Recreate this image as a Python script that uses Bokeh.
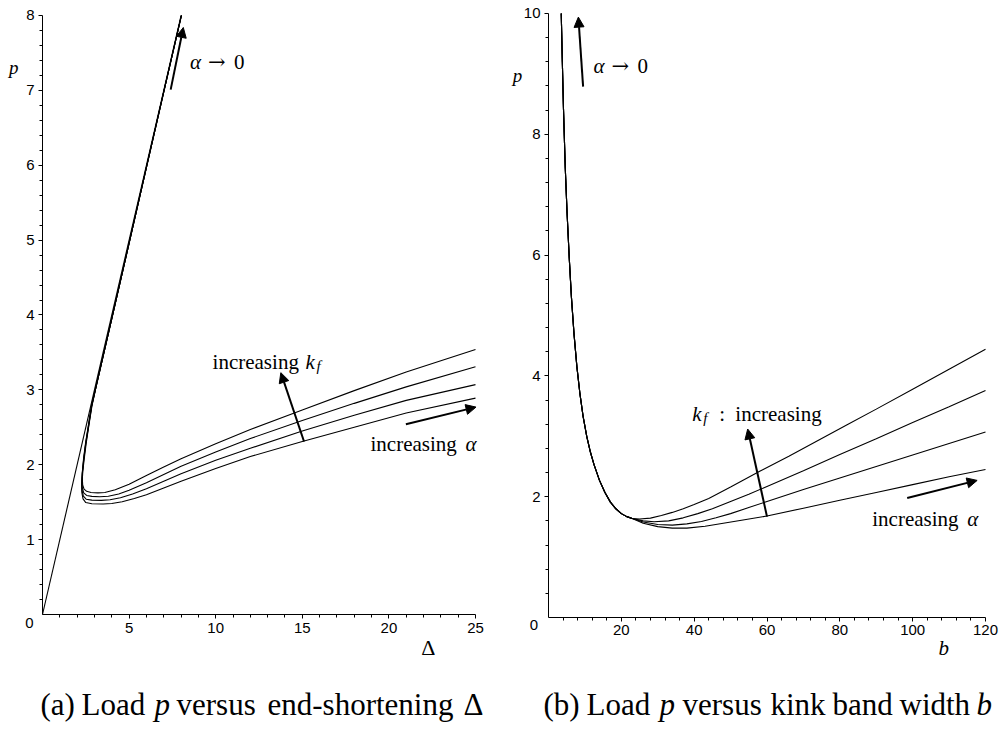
from bokeh.plotting import figure
from bokeh.models import Label, Arrow, NormalHead, FixedTicker, Range1d
from bokeh.layouts import row
from bokeh.embed import file_html
from bokeh.resources import INLINE

# ---------------- panel (a): load p versus end-shortening Delta ----------------
line_delta = [0.0, 8.0]
line_p = [0.0, 8.0]

upper_delta = [8.02, 7.0, 6.0, 5.0, 4.0, 3.5, 3.1]
upper_p = [8.0, 6.98, 5.97, 4.96, 3.95, 3.45, 3.05]

a1_delta = [2.85, 2.66, 2.52, 2.41, 2.33, 2.30, 2.32, 2.40, 2.55, 2.80, 3.2, 3.6, 4.2, 5.0, 6.0, 7.0, 8.0, 10.0, 12.0, 15.0, 18.0, 21.0, 25.0]
a1_p = [2.78, 2.50, 2.28, 2.08, 1.92, 1.81, 1.73, 1.675, 1.645, 1.63, 1.625, 1.63, 1.665, 1.74, 1.855, 1.97, 2.08, 2.28, 2.47, 2.73, 2.99, 3.24, 3.54]

a2_delta = [2.84, 2.65, 2.50, 2.39, 2.31, 2.28, 2.30, 2.38, 2.55, 2.85, 3.3, 3.8, 4.4, 5.0, 6.0, 7.0, 8.0, 10.0, 12.0, 15.0, 18.0, 21.0, 25.0]
a2_p = [2.78, 2.50, 2.28, 2.08, 1.90, 1.78, 1.69, 1.625, 1.59, 1.578, 1.573, 1.58, 1.61, 1.66, 1.76, 1.87, 1.98, 2.17, 2.35, 2.59, 2.82, 3.04, 3.31]

a3_delta = [2.83, 2.64, 2.49, 2.38, 2.30, 2.27, 2.28, 2.36, 2.52, 2.85, 3.4, 3.9, 4.5, 5.2, 6.0, 7.0, 8.0, 10.0, 12.0, 15.0, 18.0, 21.0, 25.0]
a3_p = [2.78, 2.50, 2.28, 2.08, 1.89, 1.76, 1.66, 1.58, 1.54, 1.528, 1.524, 1.533, 1.56, 1.61, 1.68, 1.78, 1.88, 2.06, 2.22, 2.45, 2.66, 2.86, 3.07]

a4_delta = [2.82, 2.63, 2.48, 2.37, 2.29, 2.26, 2.27, 2.34, 2.50, 2.85, 3.5, 4.0, 4.6, 5.3, 6.0, 7.0, 8.0, 10.0, 12.0, 15.0, 18.0, 21.0, 25.0]
a4_p = [2.78, 2.50, 2.28, 2.08, 1.88, 1.74, 1.63, 1.545, 1.495, 1.479, 1.475, 1.482, 1.505, 1.55, 1.60, 1.69, 1.78, 1.95, 2.11, 2.31, 2.50, 2.69, 2.89]

a_xticks = [5, 10, 15, 20, 25]
a_yticks = [1, 2, 3, 4, 5, 6, 7, 8]

# ---------------- panel (b): load p versus kink band width b ----------------
common_b = [3.5, 3.8, 4.1, 4.6, 5.1, 5.7, 6.3, 7.0, 7.8, 8.6, 9.5, 10.5, 11.5, 12.5, 14.0, 15.5, 17.0, 18.5, 20.0, 21.5, 23.0]
common_p = [10.0, 9.2, 8.45, 7.45, 6.7, 5.95, 5.3, 4.7, 4.15, 3.72, 3.33, 3.0, 2.74, 2.53, 2.27, 2.07, 1.91, 1.80, 1.72, 1.67, 1.64]

b1_b = [25, 28, 31, 34, 37, 40, 44, 50, 58, 66, 74, 82, 90, 100, 110, 120]
b1_p = [1.63, 1.645, 1.69, 1.74, 1.80, 1.87, 1.97, 2.16, 2.42, 2.67, 2.93, 3.19, 3.45, 3.78, 4.11, 4.44]

b2_b = [26, 29, 33, 37, 41, 45, 50, 55, 60, 70, 80, 90, 100, 110, 120]
b2_p = [1.60, 1.585, 1.60, 1.65, 1.72, 1.80, 1.92, 2.04, 2.17, 2.43, 2.70, 2.96, 3.23, 3.49, 3.76]

b3_b = [26, 30, 34, 38, 42, 46, 50, 55, 60, 70, 80, 90, 100, 110, 120]
b3_p = [1.58, 1.54, 1.53, 1.55, 1.59, 1.65, 1.72, 1.82, 1.92, 2.12, 2.31, 2.50, 2.69, 2.88, 3.07]

b4_b = [26, 30, 34, 38, 43, 48, 53, 60, 70, 80, 90, 100, 110, 120]
b4_p = [1.56, 1.505, 1.48, 1.48, 1.51, 1.56, 1.61, 1.68, 1.81, 1.94, 2.07, 2.20, 2.33, 2.45]

b_xticks = [20, 40, 60, 80, 100, 120]
b_yticks = [2, 4, 6, 8, 10]

# arrows (start x, start y, end x, end y)
a_arrow_alpha0 = (7.40, 7.01, 8.13, 7.84)
a_arrow_kf = (15.1, 2.31, 13.76, 3.23)
a_arrow_alpha = (20.98, 2.54, 25.03, 2.77)
b_arrow_alpha0 = (9.5, 8.79, 8.2, 9.94)
b_arrow_kf = (60.0, 1.67, 54.7, 3.12)
b_arrow_alpha = (98.5, 1.98, 117.7, 2.27)

# caption words: (text, italic?, pixel offset from axis origin)
caption_a = [("(a)", False, -2), ("Load", False, 39), ("p", True, 112), ("versus", False, 134),
             ("end-shortening", False, 225), ("Δ", False, 421)]
caption_b = [("(b)", False, -5), ("Load", False, 38), ("p", True, 111), ("versus", False, 134),
             ("kink", False, 222), ("band", False, 284), ("width", False, 351), ("b", True, 428)]

SERIF = "Liberation Serif"
SANS = "Liberation Sans"


def make_fig(xr, yr, xb, yb):
    f = figure(width=502, height=736, x_range=Range1d(*xr), y_range=Range1d(*yr),
               output_backend="svg", toolbar_location=None,
               min_border_left=0, min_border_right=0, min_border_top=0, min_border_bottom=0)
    f.outline_line_color = None
    f.xgrid.visible = False
    f.ygrid.visible = False
    f.background_fill_color = "white"
    f.border_fill_color = "white"
    f.xaxis[0].fixed_location = 0
    f.yaxis[0].fixed_location = 0
    f.xaxis[0].bounds = xb
    f.yaxis[0].bounds = yb
    for ax in (f.xaxis[0], f.yaxis[0]):
        ax.axis_line_color = "black"
        ax.axis_line_width = 1
        ax.major_tick_line_color = "black"
        ax.minor_tick_line_color = "black"
        ax.major_tick_in = 0
        ax.major_tick_out = 4
        ax.minor_tick_in = 0
        ax.minor_tick_out = 3
        ax.major_label_text_font = SANS
        ax.major_label_text_font_size = "15px"
        ax.major_label_text_color = "black"
        ax.major_label_standoff = 4
    return f


def lab(f, x, y, text, size=21, font=SERIF, style="normal", align="left", xo=0, yo=0, baseline="alphabetic"):
    f.add_layout(Label(x=x, y=y, text=text, text_font=font, text_font_size=f"{size}px",
                       text_font_style=style, text_align=align, text_baseline=baseline,
                       x_offset=xo, y_offset=yo, text_color="black"))


def arrow(f, a):
    f.add_layout(Arrow(end=NormalHead(size=10, fill_color="black", line_color="black", line_width=1),
                       x_start=a[0], y_start=a[1], x_end=a[2], y_end=a[3],
                       line_color="black", line_width=2))


def alpha_to_zero(f, x, y):
    lab(f, x, y, "α", style="italic")
    lab(f, x, y, "→", font="DejaVu Serif", xo=18)
    lab(f, x, y, "0", xo=44)


# ---------- figure (a) ----------
fa = make_fig((-2.4249, 26.5589), (-1.62938, 8.20033), (0, 25), (0, 8))
fa.xaxis[0].ticker = FixedTicker(ticks=a_xticks, minor_ticks=[i for i in range(1, 25) if i % 5])
fa.yaxis[0].ticker = FixedTicker(ticks=a_yticks, minor_ticks=[round(i * 0.2, 1) for i in range(1, 40) if i % 5])

fa.line(line_delta, line_p, line_color="black", line_width=1.1)
for dx, py in ((a1_delta, a1_p), (a2_delta, a2_p), (a3_delta, a3_p), (a4_delta, a4_p)):
    fa.line(upper_delta + dx, upper_p + py, line_color="black", line_width=1.1)

arrow(fa, a_arrow_alpha0)
arrow(fa, a_arrow_kf)
arrow(fa, a_arrow_alpha)

alpha_to_zero(fa, 8.51, 7.374)
lab(fa, 9.82, 3.378, "increasing")
lab(fa, 9.82, 3.378, "k", style="italic", xo=93)
lab(fa, 9.82, 3.378, "f", size=15, style="italic", xo=104, yo=-4)
lab(fa, 18.94, 2.279, "increasing")
lab(fa, 18.94, 2.279, "α", style="italic", xo=95)

lab(fa, -1.66, 7.31, "p", size=19, style="italic", align="center", baseline="middle")
lab(fa, 22.27, -0.437, "Δ", size=22, align="center", baseline="middle")
lab(fa, -0.75, -0.107, "0", size=15, font=SANS, align="center", baseline="middle")

for txt, it, off in caption_a:
    lab(fa, 0, -1.202, txt, size=31, style="italic" if it else "normal", xo=off)

# ---------- figure (b) ----------
fb = make_fig((-12.6316, 125.217), (-1.97020, 10.21523), (0, 120), (0, 10))
fb.xaxis[0].ticker = FixedTicker(ticks=b_xticks, minor_ticks=[i for i in range(4, 120, 4) if i % 20])
fb.yaxis[0].ticker = FixedTicker(ticks=b_yticks, minor_ticks=[round(i * 0.4, 1) for i in range(1, 25) if i % 5])

for bx, py in ((b1_b, b1_p), (b2_b, b2_p), (b3_b, b3_p), (b4_b, b4_p)):
    fb.line(common_b + bx, common_p + py, line_color="black", line_width=1.1)

arrow(fb, b_arrow_alpha0)
arrow(fb, b_arrow_kf)
arrow(fb, b_arrow_alpha)

alpha_to_zero(fb, 12.35, 9.127)
lab(fb, 39.5, 3.377, "k", style="italic")
lab(fb, 39.5, 3.377, "f", size=15, style="italic", xo=11, yo=-4)
lab(fb, 39.5, 3.377, ":", xo=27)
lab(fb, 39.5, 3.377, "increasing", xo=43)
lab(fb, 88.9, 1.634, "increasing")
lab(fb, 88.9, 1.634, "α", style="italic", xo=95)

lab(fb, -8.51, 8.97, "p", size=19, style="italic", align="center", baseline="middle")
lab(fb, 108.56, -0.502, "b", size=21, style="italic", align="center", baseline="middle")
lab(fb, -4.03, -0.132, "0", size=15, font=SANS, align="center", baseline="middle")

for txt, it, off in caption_b:
    lab(fb, 0, -1.44, txt, size=31, style="italic" if it else "normal", xo=off)

layout = row(fa, fb, spacing=0)
open("out.html", "w").write(file_html(layout, INLINE))
